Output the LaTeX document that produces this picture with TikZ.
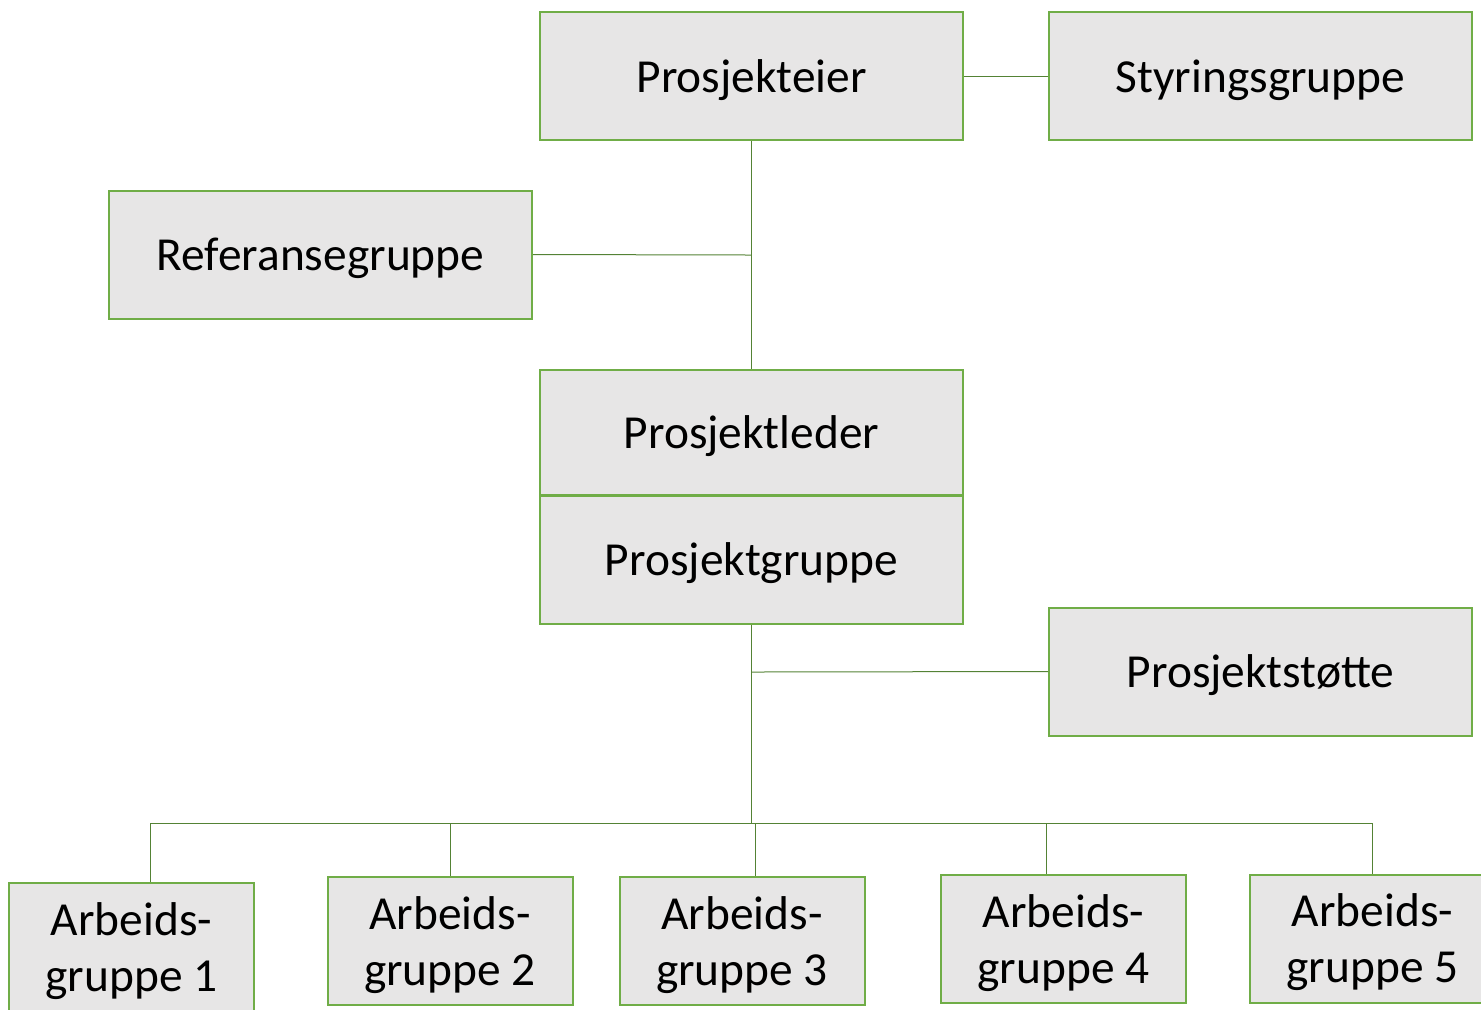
\documentclass[tikz,border=0pt]{standalone}
\usepackage{fontspec}
\setmainfont{Carlito}
\usepackage{tikz}
\usetikzlibrary{calc}
\definecolor{boxfill}{HTML}{E7E6E6}
\definecolor{boxline}{HTML}{70AD47}
\definecolor{wire}{HTML}{548235}
\newcommand{\orgfont}{\fontsize{23.7}{28}\selectfont}

\begin{document}
\begin{tikzpicture}[x=0.5pt, y=-0.5pt,
  unit/.style={draw=boxline, line width=1pt, fill=boxfill, font=\orgfont,
    minimum width=211.5pt, minimum height=64pt, inner sep=0pt, text depth=0pt},
  team/.style={unit, minimum width=122.5pt, align=center},
  link/.style={draw=wire, line width=0.5pt}]

  \useasboundingbox (0, 0) rectangle (1481, 1009);

  % top level
  \node[unit] (eier) at (751.5, 76) {Prosjekteier};
  \node[unit] (styring) at (1260.5, 76) {Styringsgruppe};
  \node[unit] (referanse) at (320.5, 254.5) {Referansegruppe};

  % project core
  \node[unit, minimum height=62.5pt] (leder) at (751.5, 432.5) {Prosjektleder};
  \node[unit] (gruppe) at (751.5, 559.5) {Prosjektgruppe};
  \node[unit] (stotte) at (1260.5, 671.5) {Prosjektstøtte};

  % working groups
  \foreach \n/\x/\y in {1/131.5/947, 2/450/941, 3/742/941, 4/1063.5/939, 5/1372.5/938.5}
    \node[team] (ag\n) at (\x, \y) {Arbeids-\\gruppe \n};

  % connectors
  \coordinate (j1) at (751.5, 255);
  \coordinate (j2) at (751.5, 672);
  \coordinate (bus) at (751.5, 823);
  \coordinate (busL) at (150, 823);
  \coordinate (busR) at (1372, 823);
  \draw[link] (eier.east) -- (styring.west);
  \draw[link] (eier.south) -- (leder.north);
  \draw[link] (j1) -- (referanse.east);
  \draw[link] (gruppe.south) -- (bus);
  \draw[link] (j2) -- (stotte.west);
  \draw[link] (busL) -- (busR);
  \foreach \n/\x in {1/150, 2/450, 3/755, 4/1046, 5/1372}
    \draw[link] (\x, 823) -- (\x, 823 |- ag\n.north);

\end{tikzpicture}
\end{document}
